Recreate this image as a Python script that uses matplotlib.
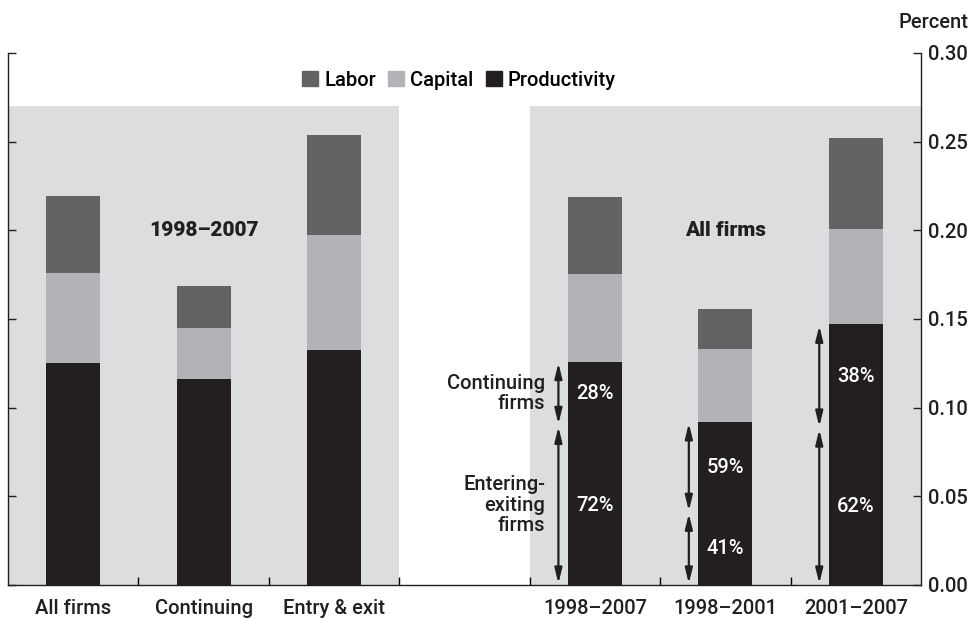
import matplotlib
matplotlib.use("Agg")
import matplotlib.pyplot as plt
from matplotlib.patches import Patch

plt.rcParams['font.family'] = ['Roboto', 'DejaVu Sans']
plt.rcParams['font.weight'] = 'medium'

# data (percent contribution, stacked bottom -> top)
categories = ['All firms', 'Continuing', 'Entry & exit', '1998\u20132007', '1998\u20132001', '2001\u20132007']
positions = [0, 1, 2, 4, 5, 6]
productivity = [0.125, 0.116, 0.1325, 0.126, 0.092, 0.147]
capital = [0.051, 0.029, 0.065, 0.0495, 0.041, 0.054]
labor = [0.0435, 0.0235, 0.056, 0.0435, 0.0225, 0.051]

# split of productivity between entering-exiting (bottom) and continuing (top) firms
split_pos = [4, 5, 6]
split_level = [0.090, 0.041, 0.0885]
pct_entering = ['72%', '41%', '62%']
pct_continuing = ['28%', '59%', '38%']

c_labor = '#636365'
c_capital = '#b2b3b6'
c_prod = '#231f20'
c_shade = '#dcdddf'
fs = 14.5

fig = plt.figure(figsize=(9.7, 6.19), dpi=100)
ax = fig.add_axes([8 / 970, 1 - 585 / 619, 913 / 970, 532 / 619])

# shaded panels
ax.fill_between([-0.5, 2.5], 0, 0.27, color=c_shade, lw=0, zorder=0)
ax.fill_between([3.5, 6.5], 0, 0.27, color=c_shade, lw=0, zorder=0)

w = 0.415
bottom2 = [p + c for p, c in zip(productivity, capital)]
ax.bar(positions, productivity, w, color=c_prod, zorder=2)
ax.bar(positions, capital, w, bottom=productivity, color=c_capital, zorder=2)
ax.bar(positions, labor, w, bottom=bottom2, color=c_labor, zorder=2)

# arrows and share labels
arrow_kw = dict(arrowstyle='<|-|>,head_length=0.9,head_width=0.22', color=c_prod,
                lw=1.6, mutation_scale=10, shrinkA=1, shrinkB=1)
for x, s, top, pe, pc in zip(split_pos, split_level, productivity[3:], pct_entering, pct_continuing):
    arrow_x = x - 0.28
    ax.annotate('', xy=(arrow_x, 0), xytext=(arrow_x, s), arrowprops=arrow_kw, zorder=3)
    ax.annotate('', xy=(arrow_x, s), xytext=(arrow_x, top), arrowprops=arrow_kw, zorder=3)
    ax.text(x, s / 2, pe, color='white', fontsize=fs, ha='center', va='center', zorder=4)
    ax.text(x, (s + top) / 2, pc, color='white', fontsize=fs, ha='center', va='center', zorder=4)

ax.text(3.62, (split_level[0] + productivity[3]) / 2, 'Continuing\nfirms', fontsize=fs,
        ha='right', va='center', linespacing=1.08, color=c_prod)
ax.text(3.62, split_level[0] / 2, 'Entering-\nexiting\nfirms', fontsize=fs,
        ha='right', va='center', linespacing=1.08, color=c_prod)

# panel titles
ax.text(1.0, 0.2, '1998\u20132007', fontsize=15, fontweight='black', ha='center', va='center', color=c_prod)
ax.text(5.0, 0.2, 'All firms', fontsize=15, fontweight='black', ha='center', va='center', color=c_prod)

# axes
ax.set_xlim(-0.5, 6.5)
ax.set_ylim(0, 0.30)
ax.spines['top'].set_visible(False)
for sp in ['left', 'right', 'bottom']:
    ax.spines[sp].set_linewidth(1.0)
    ax.spines[sp].set_color(c_prod)

ax.set_yticks([0, 0.05, 0.10, 0.15, 0.20, 0.25, 0.30])
ax.set_yticklabels(['0.00', '0.05', '0.10', '0.15', '0.20', '0.25', '0.30'])
ax.tick_params(axis='y', left=True, right=True, labelleft=False, labelright=True,
               direction='in', length=6, width=1, pad=5, labelsize=fs, colors=c_prod)

ax.set_xticks([0.5, 1.5, 2.5, 3.5, 4.5, 5.5])
ax.set_xticklabels([])
ax.set_xticks(positions, minor=True)
ax.set_xticklabels(categories, minor=True)
ax.tick_params(axis='x', which='major', direction='in', length=6, width=1)
ax.tick_params(axis='x', which='minor', length=0, pad=10, labelsize=fs, colors=c_prod)

fig.text(0.998, 1 - 22 / 619, 'Percent', fontsize=fs, ha='right', va='center', color=c_prod)

handles = [Patch(color=c_labor, label='Labor'),
           Patch(color=c_capital, label='Capital'),
           Patch(color=c_prod, label='Productivity')]
fig.legend(handles=handles, loc='center', bbox_to_anchor=(459 / 970, 1 - 80 / 619), ncol=3,
           frameon=False, fontsize=fs, handlelength=0.8, handleheight=0.8,
           handletextpad=0.3, columnspacing=0.6, borderaxespad=0)

fig.savefig('out.png', dpi=100)
